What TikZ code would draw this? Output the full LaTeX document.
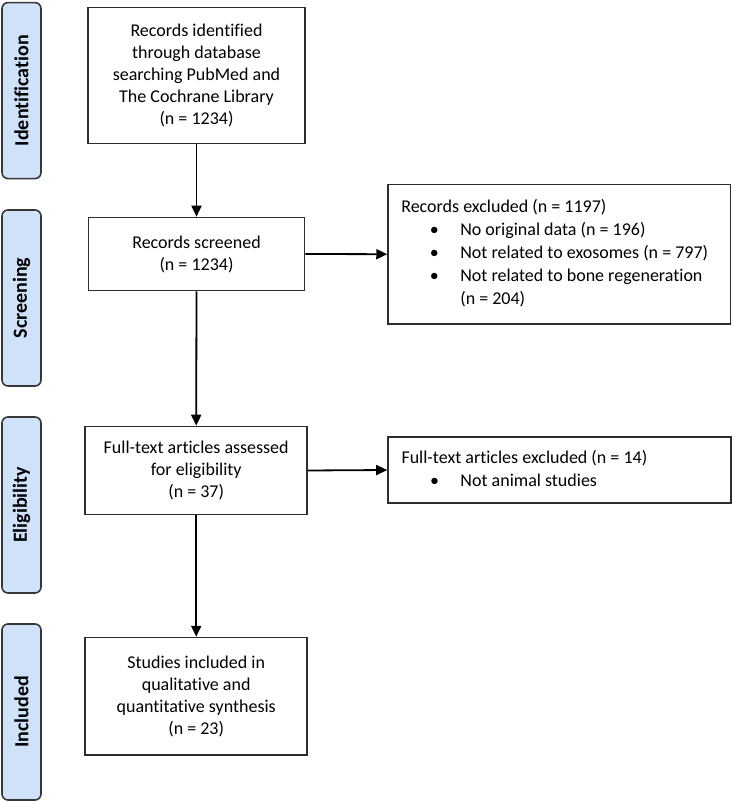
\documentclass[tikz,border=0pt]{standalone}
\usepackage{fontspec}
\setmainfont{Carlito}[Ligatures=NoCommon]
\usetikzlibrary{arrows.meta}
\definecolor{sidefill}{RGB}{207,226,250}
\definecolor{sideline}{RGB}{55,55,55}
\definecolor{boxline}{RGB}{45,45,45}
\tikzset{
  sidebox/.style={draw=sideline, fill=sidefill, line width=1.6pt, rounded corners=6pt,
    minimum width=39pt, minimum height=176pt, inner sep=0pt},
  sidelabel/.style={rotate=90, font=\fontsize{20}{24}\selectfont\bfseries, text=black},
  mainbox/.style={draw=boxline, line width=1.6pt, align=center, inner sep=0pt,
    font=\fontsize{18}{22}\selectfont},
  exbox/.style={draw=boxline, line width=1.6pt, inner xsep=13pt, inner ysep=0pt,
    font=\fontsize{18}{23}\selectfont},
  flow/.style={line width=1.8pt, draw=black, -{Triangle[length=11pt,width=10pt]}}
}
\newcommand{\bul}[1]{\hspace*{33pt}\makebox[0pt]{\textbullet}\hspace*{26pt}#1}
\newcommand{\exlines}[1]{\makebox[316pt][l]{\begin{tabular}{@{}l@{}}#1\end{tabular}}}
\begin{document}
\begin{tikzpicture}[x=1pt,y=-1pt]
\useasboundingbox (0,0) rectangle (733,802);
% side boxes
\node[sidebox] (s1) at (21.5,90.6) {};
\node[sidebox] (s2) at (21.5,298) {};
\node[sidebox] (s3) at (21.5,505) {};
\node[sidebox] (s4) at (21.5,712) {};
\node[sidelabel] (l1) at (s1.center) {Identification};
\node[sidelabel] (l2) at (s2.center) {Screening};
\node[sidelabel] (l3) at (s3.center) {Eligibility};
\node[sidelabel] (l4) at (s4.center) {Included};
% main boxes
\node[mainbox, minimum width=217pt, minimum height=136pt] (b1) at (196.5,75.5)
  {Records identified\\through database\\searching PubMed and\\The Cochrane Library\\(n = 1234)};
\node[mainbox, minimum width=216pt, minimum height=73pt] (b2) at (196.5,254)
  {Records screened\\(n = 1234)};
\node[mainbox, minimum width=222pt, minimum height=88pt] (b3) at (196.2,470.5)
  {Full-text articles assessed\\for eligibility\\(n = 37)};
\node[mainbox, minimum width=222pt, minimum height=117.5pt] (b4) at (196.2,696.3)
  {Studies included in\\qualitative and\\quantitative synthesis\\(n = 23)};
% exclusion boxes
\node[exbox, minimum width=342.5pt, minimum height=139.7pt] (e1) at (559.3,254.2)
  {\exlines{Records excluded (n = 1197)\\
   \bul{No original data (n = 196)}\\
   \bul{Not related to exosomes (n = 797)}\\
   \bul{Not related to bone regeneration}\\
   \hspace*{59pt}(n = 204)}};
\node[exbox, minimum width=343pt, minimum height=66pt] (e2) at (559.5,470)
  {\exlines{Full-text articles excluded (n = 14)\\
   \bul{Not animal studies}}};
% connectors
\draw[flow] (b1.south) -- (b2.north);
\draw[flow] (b2.south) -- (b3.north);
\draw[flow] (b3.south) -- (b4.north);
\draw[flow] (b2.east) -- (e1.west);
\draw[flow] (b3.east) -- (e2.west);
\end{tikzpicture}
\end{document}
